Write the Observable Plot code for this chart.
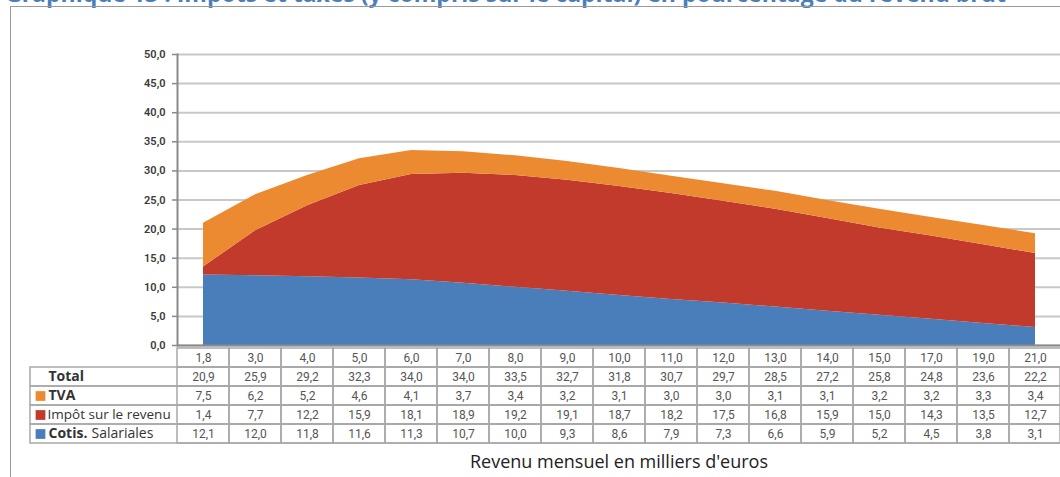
<!DOCTYPE html>
<html><head><meta charset="utf-8">
<script src="https://cdn.jsdelivr.net/npm/d3@7"></script>
<script src="https://cdn.jsdelivr.net/npm/@observablehq/plot@0.6"></script>
<style>
body{margin:0;background:#fff;}
#wrap{position:relative;width:1060px;height:477px;overflow:hidden;font-family:"Open Sans",sans-serif;}
#title{position:absolute;left:5px;top:-18px;font:bold 23px/23px "Open Sans",sans-serif;color:#4a7ebb;white-space:nowrap;}
#frame{position:absolute;left:10px;top:6px;width:1100px;height:500px;border-left:1.5px solid #9a9a9a;border-top:1.5px solid #9a9a9a;box-sizing:border-box;}
#chart{position:absolute;left:0;top:0;}
#table{position:absolute;left:0;top:345px;}
#xtitle{position:absolute;top:449px;left:177px;width:884px;text-align:center;font:18px "Open Sans",sans-serif;color:#222;}
svg{overflow:visible;}
</style>
</head><body>
<div id="wrap">
<div id="title">Graphique 13 : Impôts et taxes (y compris sur le capital) en pourcentage du revenu brut</div>
<div id="frame"></div>
<div id="chart"></div>
<div id="table"></div>
<div id="xtitle">Revenu mensuel en milliers d'euros</div>
</div>
<script>
const cats = [1.8, 3.0, 4.0, 5.0, 6.0, 7.0, 8.0, 9.0, 10.0, 11.0, 12.0, 13.0, 14.0, 15.0, 17.0, 19.0, 21.0];
const total = [20.9, 25.9, 29.2, 32.3, 34.0, 34.0, 33.5, 32.7, 31.8, 30.7, 29.7, 28.5, 27.2, 25.8, 24.8, 23.6, 22.2];
const tva = [7.5, 6.2, 5.2, 4.6, 4.1, 3.7, 3.4, 3.2, 3.1, 3.0, 3.0, 3.1, 3.1, 3.2, 3.2, 3.3, 3.4];
const impot = [1.4, 7.7, 12.2, 15.9, 18.1, 18.9, 19.2, 19.1, 18.7, 18.2, 17.5, 16.8, 15.9, 15.0, 14.3, 13.5, 12.7];
const cotis = [12.1, 12.0, 11.8, 11.6, 11.3, 10.7, 10.0, 9.3, 8.6, 7.9, 7.3, 6.6, 5.9, 5.2, 4.5, 3.8, 3.1];
const yTicks = [0, 5, 10, 15, 20, 25, 30, 35, 40, 45, 50];
const seriesNames = ["Cotis. Salariales", "Impôt sur le revenu", "TVA"];
const seriesColors = ["#4a7ebb", "#c23a2b", "#ec8a31"];
const rowKeys = ["head", "Total", "TVA", "Impôt sur le revenu", "Cotis. Salariales"];

const fmt = d => (+d).toFixed(1).replace(".", ",");
const seriesValues = {"Cotis. Salariales": cotis, "Impôt sur le revenu": impot, "TVA": tva};

const areaData = [];
for (const s of seriesNames) cats.forEach((c, i) => areaData.push({cat: c, series: s, value: seriesValues[s][i]}));

const chart = Plot.plot({
  width: 1060, height: 346,
  marginTop: 54, marginBottom: 1, marginLeft: 177, marginRight: 0,
  x: {type: "point", domain: cats, range: [177, 1061], padding: 0.5, axis: null},
  y: {domain: [0, 50], axis: null},
  color: {domain: seriesNames, range: seriesColors},
  marks: [
    Plot.gridY(yTicks, {stroke: "#c8c8c8", strokeOpacity: 1, strokeWidth: 2}),
    Plot.areaY(areaData, {x: "cat", y: "value", z: "series", fill: "series", order: seriesNames, curve: "linear"}),
    Plot.axisY(yTicks, {label: null, tickSize: 5, tickPadding: 7, tickFormat: fmt, stroke: "#8a8a8a", strokeWidth: 1.5, fill: "#3a3a3a", fontSize: 11, fontWeight: 600, fontFamily: "Roboto"}),
    Plot.frame({anchor: "left", stroke: "#8a8a8a", strokeWidth: 2}),
    Plot.ruleY([0], {stroke: "#8a8a8a", strokeWidth: 2})
  ]
});
document.getElementById("chart").append(chart);

const cellData = [];
cats.forEach((c, i) => {
  cellData.push({cat: c, row: "head", label: fmt(c)});
  cellData.push({cat: c, row: "Total", label: fmt(total[i])});
  cellData.push({cat: c, row: "TVA", label: fmt(tva[i])});
  cellData.push({cat: c, row: "Impôt sur le revenu", label: fmt(impot[i])});
  cellData.push({cat: c, row: "Cotis. Salariales", label: fmt(cotis[i])});
});
const boldLabels = [{row: "Total", text: "Total"}, {row: "TVA", text: "TVA"}, {row: "Cotis. Salariales", text: "Cotis."}];
const impotLabel = [{row: "Impôt sur le revenu", text: "Impôt sur le revenu"}];
const salLabel = [{row: "Cotis. Salariales", text: "Salariales"}];
const swatches = ["TVA", "Impôt sur le revenu", "Cotis. Salariales"];

const table = Plot.plot({
  width: 1060, height: 100,
  marginTop: 0, marginBottom: 0, marginLeft: 30, marginRight: 0,
  x: {type: "band", domain: cats, range: [177, 1061], padding: 0, axis: null},
  y: {type: "band", domain: rowKeys, range: [1, 99], padding: 0, axis: null},
  color: {domain: seriesNames, range: seriesColors},
  marks: [
    Plot.cell(rowKeys.slice(1), {y: d => d, fill: "none", stroke: "#a8a8a8", strokeWidth: 1.5}),
    Plot.cell(cellData, {x: "cat", y: "row", fill: "none", stroke: "#a8a8a8", strokeWidth: 1.5}),
    Plot.text(cellData, {x: "cat", y: "row", text: "label", fill: "#555", fontSize: 12, fontFamily: "Roboto"}),
    Plot.dot(swatches, {y: d => d, fill: d => d, symbol: "square", r: 5.5, frameAnchor: "left", dx: 10}),
    Plot.text(boldLabels, {y: "row", text: "text", frameAnchor: "left", textAnchor: "start", dx: 18, fontWeight: "bold", fontSize: 14, fill: "#333", fontFamily: "Open Sans"}),
    Plot.text(impotLabel, {y: "row", text: "text", frameAnchor: "left", textAnchor: "start", dx: 17, fontSize: 13.5, fill: "#333", fontFamily: "Open Sans"}),
    Plot.text(salLabel, {y: "row", text: "text", frameAnchor: "left", textAnchor: "start", dx: 61, fontSize: 14, fill: "#333", fontFamily: "Open Sans"})
  ]
});
document.getElementById("table").append(table);
</script>
</body></html>
